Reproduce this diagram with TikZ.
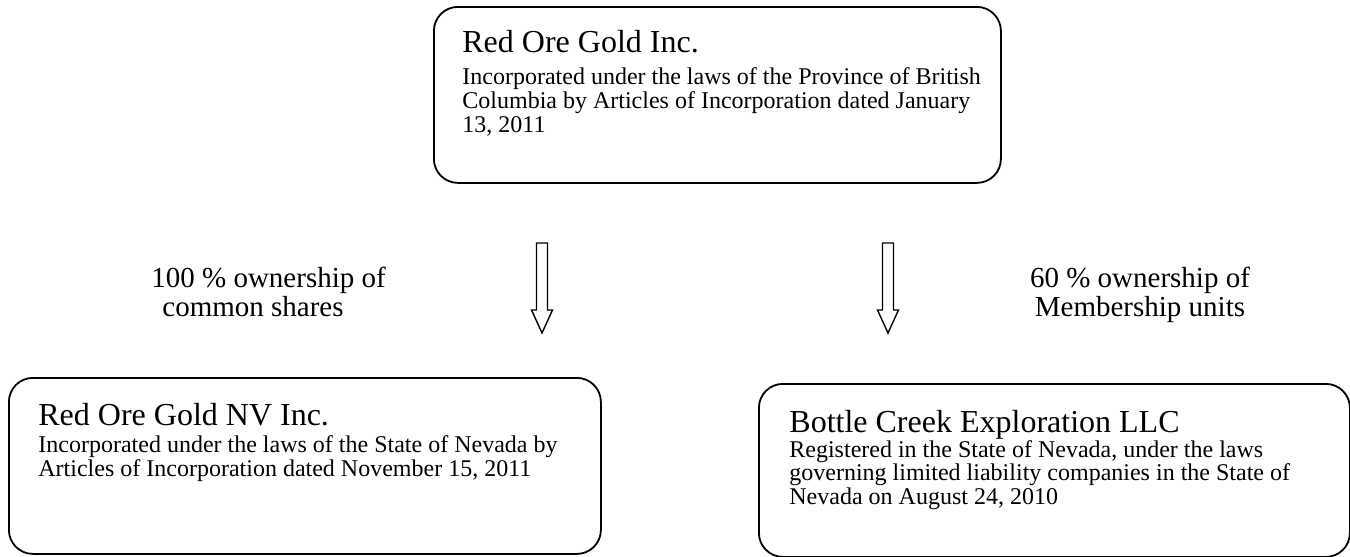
\documentclass[tikz,border=0pt]{standalone}
\usepackage{fontspec}
\setmainfont{Liberation Serif}
\usetikzlibrary{calc}
\usetikzlibrary{positioning}

\tikzset{
  entity/.style={draw, line width=0.9pt, rounded corners=12pt, anchor=north west, inner sep=0pt},
  entitytitle/.style={anchor=base west, inner sep=0pt, font=\fontsize{16}{19}\selectfont},
  entitybody/.style={anchor=north west, inner sep=0pt, align=left, font=\fontsize{12}{11.75}\selectfont},
  ownlabel/.style={inner sep=0pt, font=\fontsize{14.5}{14.5}\selectfont},
  blockarrow/.style={draw, line width=0.7pt, line join=miter}
}

\begin{document}
\begin{tikzpicture}[x=0.5pt, y=-0.5pt]
		\useasboundingbox (0,0) rectangle (1350,557);

		% the three companies
		\node[entity, minimum width=283.5pt, minimum height=88pt] (parent) at (433,6) {};
		\node[entity, minimum width=296pt, minimum height=88pt] (nvinc) at (8,377) {};
		\node[entity, minimum width=295.5pt, minimum height=86.5pt] (bottle) at (758,383) {};

		\node[entitytitle] (parenttitle) at ($(parent.north west)+(29,47)$) {Red Ore Gold Inc.};
		\node[entitybody, font=\fontsize{12}{12}\selectfont] (parentbody) at ($(parenttitle.base west)+(0,14.5)$)
			{Incorporated under the laws of the Province of British\\
			 Columbia by Articles of Incorporation dated January\\
			 13, 2011};

		\node[entitytitle] (nvinctitle) at ($(nvinc.north west)+(30,48)$) {Red Ore Gold NV Inc.};
		\node[entitybody] (nvincbody) at ($(nvinctitle.base west)+(0,10.5)$)
			{Incorporated under the laws of the State of Nevada by\\
			 Articles of Incorporation dated November 15, 2011};

		\node[entitytitle] (bottletitle) at ($(bottle.north west)+(31,49)$) {Bottle Creek Exploration LLC};
		\node[entitybody] (bottlebody) at ($(bottletitle.base west)+(0,8)$)
			{Registered in the State of Nevada, under the laws\\
			 governing limited liability companies in the State of\\
			 Nevada on August 24, 2010};

		% ownership arrows
		\coordinate (arrowL) at (542,243);
		\coordinate (arrowR) at (888,243);
		\draw[blockarrow] (arrowL) ++(-5.5,0) -- ++(0,67) -- ++(-5,0) -- ++(10.5,23)
			-- ++(10.5,-23) -- ++(-5,0) -- ++(0,-67) -- cycle;
		\draw[blockarrow] (arrowR) ++(-5.5,0) -- ++(0,67) -- ++(-5,0) -- ++(10.5,23)
			-- ++(10.5,-23) -- ++(-5,0) -- ++(0,-67) -- cycle;

		\node[ownlabel, anchor=base west, align=left] (ownL) at (151,316)
			{100 \% ownership of\\ \hspace{5.5pt}common shares};
		\node[ownlabel, anchor=base, align=center] (ownR) at (1140,316)
			{60 \% ownership of\\ Membership units};
\end{tikzpicture}
\end{document}
